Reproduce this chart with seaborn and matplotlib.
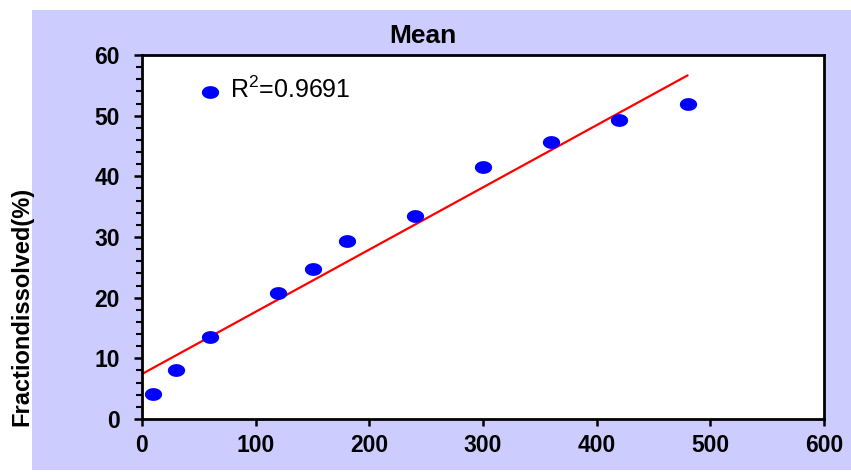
import numpy as np
import pandas as pd
import matplotlib
matplotlib.use("Agg")
import matplotlib.pyplot as plt
from matplotlib.path import Path
from matplotlib.patches import Rectangle
from matplotlib.ticker import MultipleLocator
import seaborn as sns

# data
time_min = [10, 30, 60, 120, 150, 180, 240, 300, 360, 420, 480]
fraction = [4.2, 8.1, 13.5, 20.8, 24.8, 29.3, 33.5, 41.5, 45.6, 49.3, 52.0]
x_ticks = [0, 100, 200, 300, 400, 500, 600]
y_ticks = [0, 10, 20, 30, 40, 50, 60]
legend_label = "R$^{2}$=0.9691"
title = "Mean"
ylabel = "Fractiondissolved(%)"

sns.set_theme(style="white")
plt.rcParams['font.family'] = ['Liberation Sans', 'DejaVu Sans']
plt.rcParams['text.color'] = 'black'
plt.rcParams['mathtext.fontset'] = 'custom'
plt.rcParams['mathtext.rm'] = 'Liberation Sans'
plt.rcParams['mathtext.it'] = 'Liberation Sans:italic'
plt.rcParams['mathtext.bf'] = 'Liberation Sans:bold'
plt.rcParams['mathtext.default'] = 'rm'

df = pd.DataFrame({"time": time_min, "fraction": fraction})
slope, intercept = np.polyfit(df["time"], df["fraction"], 1)
fit_df = pd.DataFrame({"time": [0, max(time_min)]})
fit_df["fit"] = intercept + slope * fit_df["time"]

W, H = 851, 472
fig = plt.figure(figsize=(W / 100, H / 100), dpi=100)
fig.patch.set_facecolor("white")
bg = Rectangle((32 / W, 2 / H), 1 - 32 / W, (H - 12) / H,
               transform=fig.transFigure, facecolor="#CCCCFF",
               edgecolor="none", zorder=-10)
fig.add_artist(bg)

ax = fig.add_axes([142 / W, (H - 419) / H, (824 - 142) / W, (419 - 55) / H])
ax.set_zorder(5)
ax.set_facecolor("white")

t = np.linspace(0, 2 * np.pi, 40)
ellipse = Path(np.column_stack([1.35 * np.cos(t), np.sin(t)]), closed=True)

sns.lineplot(data=fit_df, x="time", y="fit", ax=ax, color="#FF0000",
             linewidth=1.6, zorder=2, legend=False)
sns.scatterplot(data=df, x="time", y="fraction", ax=ax, marker=ellipse,
                s=155, color="#0000FF", edgecolor="#0000FF", linewidth=0,
                zorder=3, label=legend_label)

ax.set_xlim(0, 600)
ax.set_ylim(0, 60)
ax.set_xticks(x_ticks)
ax.set_yticks(y_ticks)
ax.yaxis.set_minor_locator(MultipleLocator(2))
ax.set_xlabel("")
ax.set_ylabel("")

for sp in ax.spines.values():
    sp.set_visible(True)
    sp.set_color("black")
    sp.set_linewidth(2)

ax.tick_params(axis="both", which="major", direction="out", length=6,
               width=1.8, color="black", labelsize=16.5, labelcolor="black")
ax.tick_params(axis="y", which="major", pad=10, left=True)
ax.tick_params(axis="y", which="minor", direction="out", length=4,
               width=1.5, color="black", left=True)
ax.tick_params(axis="x", which="major", pad=6, length=5, bottom=True)
for lab in ax.get_xticklabels() + ax.get_yticklabels():
    lab.set_fontweight("bold")

leg = ax.legend(loc="center left", bbox_to_anchor=(0.081, 0.904),
                frameon=False, handlelength=1.0, handletextpad=0.3,
                borderpad=0, borderaxespad=0, fontsize=18, scatterpoints=1)
for txt in leg.get_texts():
    txt.set_color("black")

fig.text(423 / W, 1 - 36 / H, title, ha="center", va="center",
         fontsize=19, fontweight="bold", color="black")
fig.text(22 / W, 1 - 306 / H, ylabel, ha="center", va="center",
         rotation=90, fontsize=17, fontweight="bold", color="black")

fig.savefig("out.png", dpi=100)
